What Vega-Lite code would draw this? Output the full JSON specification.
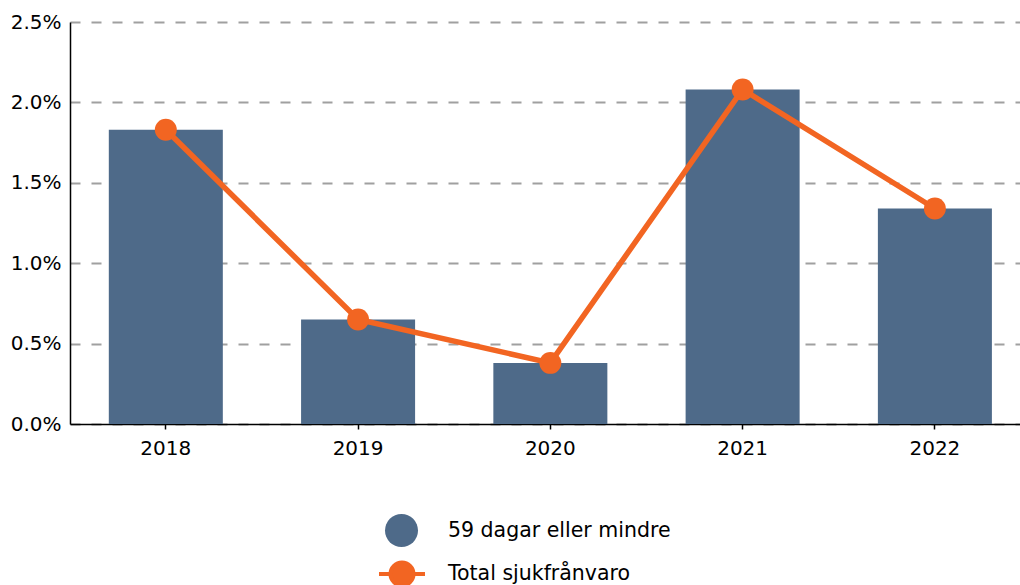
{
  "$schema": "https://vega.github.io/schema/vega-lite/v6.json",
  "width": 950,
  "height": 402,
  "autosize": "none",
  "padding": {"left": 70, "top": 22, "right": 0, "bottom": 161},
  "background": "white",
  "config": {
    "view": {"stroke": null},
    "font": "DejaVu Sans",
    "axis": {"labelFont": "DejaVu Sans", "labelFontSize": 20, "labelColor": "#000"},
    "legend": {"labelFont": "DejaVu Sans", "labelFontSize": 20.5, "labelColor": "#000", "labelLimit": 0}
  },
  "data": {
    "values": [
      {"year": "2018", "bar": 0.0183, "total": 0.0183},
      {"year": "2019", "bar": 0.0065, "total": 0.0065},
      {"year": "2020", "bar": 0.0038, "total": 0.0038},
      {"year": "2021", "bar": 0.0208, "total": 0.0208},
      {"year": "2022", "bar": 0.0134, "total": 0.0134}
    ]
  },
  "encoding": {
    "x": {
      "field": "year", "type": "nominal",
      "scale": {"paddingInner": 0.407, "paddingOuter": 0.174, "align": 0.58},
      "axis": {"title": null, "labelAngle": 0, "domainColor": "#000", "domainWidth": 1.5, "tickColor": "#000", "tickWidth": 1.5, "tickSize": 5, "labelPadding": 9, "grid": false}
    }
  },
  "layer": [
    {
      "mark": {"type": "bar", "color": "#4e6a89"},
      "encoding": {
        "y": {
          "field": "bar", "type": "quantitative",
          "scale": {"domain": [0, 0.025], "nice": false},
          "axis": {"title": null, "format": ".1%", "values": [0, 0.005, 0.01, 0.015, 0.02, 0.025], "ticks": false, "tickSize": 0, "labelPadding": 9, "domainColor": "#000", "domainWidth": 1.5, "grid": true, "gridColor": "#a0a0a0", "gridDash": [10, 11], "gridWidth": 2}
        },
        "color": {
          "datum": "59 dagar eller mindre",
          "scale": {"range": ["#4e6a89"]},
          "legend": {"title": null, "orient": "none", "legendX": 315, "legendY": 492, "padding": 0, "symbolType": "circle", "symbolSize": 1089, "symbolStrokeWidth": 0, "labelOffset": 30}
        }
      }
    },
    {
      "mark": {"type": "line", "color": "#f26522", "strokeWidth": 5.5, "point": {"filled": true, "size": 480, "color": "#f26522"}},
      "encoding": {
        "y": {"field": "total", "type": "quantitative"},
        "color": {
          "datum": "Total sjukfrånvaro",
          "scale": {"range": ["#f26522"]},
          "legend": {"title": null, "orient": "none", "legendX": 307, "legendY": 527, "padding": 0, "symbolType": "M-1,0H-0.5M0.5,0H1M-0.5,0A0.5,0.5 0 1,0 0.5,0A0.5,0.5 0 1,0 -0.5,0Z", "symbolSize": 2116, "symbolFillColor": "#f26522", "symbolStrokeColor": "#f26522", "symbolStrokeWidth": 4, "labelOffset": 21}
        }
      }
    }
  ],
  "resolve": {"scale": {"color": "independent"}, "legend": {"color": "independent"}}
}
